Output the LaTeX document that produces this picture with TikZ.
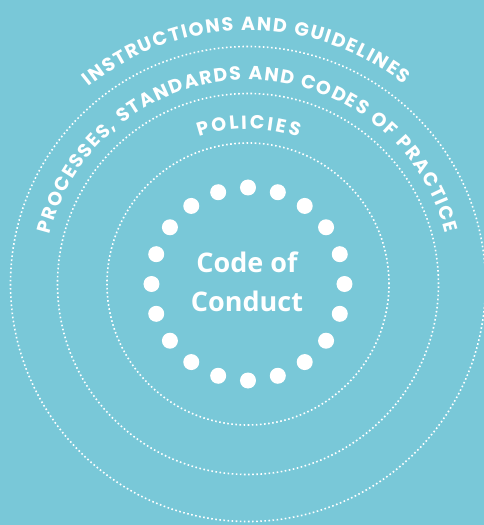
\documentclass[tikz,border=0pt]{standalone}
\usepackage{fontspec}
\setmainfont{Open Sans}
\newfontfamily\arcfont{Poppins}
\usetikzlibrary{decorations.text}
\definecolor{bg}{RGB}{121,200,216}
\newcommand\arcfmt{\arcfont\bfseries\fontsize{19}{22}\selectfont}
\begin{document}
\begin{tikzpicture}[x=1pt,y=1pt,
  ring/.style={draw=white, line width=1.6pt, dash pattern=on 1.6pt off 2.5pt},
  bead/.style={circle, fill=white, inner sep=0pt, minimum size=16pt},
  arctext/.style={decorate, decoration={text along path, text align={fit to path}, text color=white, text={#1}}}
]
\fill[bg] (-248,-241) rectangle (236,284);
\useasboundingbox (-248,-241) rectangle (236,284);
\draw[ring] (0,0) circle[radius=141pt];
\draw[ring] (0,0) circle[radius=190.5pt];
\draw[ring] (0,0) circle[radius=237.5pt];
\foreach \i in {0,...,19} \node[bead] (d\i) at (90+18*\i:96.5pt) {};
\node[text=white, font=\bfseries\fontsize{27}{39}\selectfont, align=center] (coc) at (-1,2) {Code of\\Conduct};
\path[arctext={|\arcfmt|POLICIES}] (108.5:155pt) arc[start angle=108.5, end angle=71, radius=155pt];
\path[arctext={|\arcfmt|PROCESSES, STANDARDS AND CODES OF PRACTICE}] (166:204pt) arc[start angle=166, end angle=14.5, radius=204pt];
\path[arctext={|\arcfmt|INSTRUCTIONS AND GUIDELINES}] (129:253.5pt) arc[start angle=129, end angle=52, radius=253.5pt];
\end{tikzpicture}
\end{document}
